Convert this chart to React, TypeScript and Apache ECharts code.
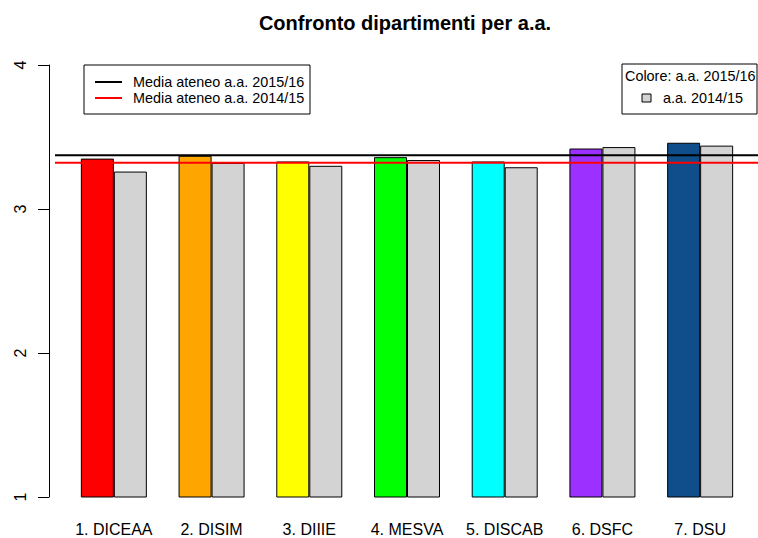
import React, { useEffect, useRef } from "react";
import * as echarts from "echarts";

const categories = ["1. DICEAA", "2. DISIM", "3. DIIIE", "4. MESVA", "5. DISCAB", "6. DSFC", "7. DSU"];
const current = [3.35, 3.37, 3.33, 3.36, 3.33, 3.42, 3.46];
const previous = [3.26, 3.32, 3.30, 3.34, 3.29, 3.43, 3.44];
const deptColors = ["#FF0000", "#FFA500", "#FFFF00", "#00FF00", "#00FFFF", "#9B30FF", "#104E8B"];
const meanCurrent = 3.373;
const meanPrevious = 3.322;
const yTicks = [1, 2, 3, 4];

const FONT = "Liberation Sans, Arial, Helvetica, sans-serif";

export default function App() {
  const ref = useRef<HTMLDivElement>(null);
  useEffect(() => {
    if (!ref.current) return;
    const chart = echarts.init(ref.current, null, { renderer: "svg" });
    const option: any = {
      animation: false,
      backgroundColor: "#ffffff",
      grid: [
        { left: 65, right: 9, top: 65, bottom: 41 },
        { left: 55, right: 0, top: 65, bottom: 41 },
      ],
      xAxis: [
        {
          type: "category",
          gridIndex: 0,
          data: categories,
          axisLine: { show: false },
          axisTick: { show: false },
          axisLabel: {
            color: "#000",
            fontFamily: FONT,
            fontSize: 16,
            margin: 24,
            interval: 0,
            hideOverlap: false,
          },
        },
        { type: "value", gridIndex: 1, min: 0, max: 1, show: false },
      ],
      yAxis: [
        {
          type: "value",
          gridIndex: 0,
          min: yTicks[0],
          max: yTicks[yTicks.length - 1],
          interval: 1,
          offset: 16,
          splitLine: { show: false },
          axisLine: { show: true, lineStyle: { color: "#000", width: 1 } },
          axisTick: { show: true, length: 11, lineStyle: { color: "#000" } },
          axisLabel: { color: "#000", fontFamily: FONT, fontSize: 16, rotate: 90, margin: 21 },
        },
        { type: "value", gridIndex: 1, min: 1, max: 4, show: false },
      ],
      series: [
        {
          type: "bar",
          xAxisIndex: 0,
          yAxisIndex: 0,
          barWidth: 33,
          barGap: "0%",
          data: current.map((v, i) => ({
            value: v,
            itemStyle: { color: deptColors[i], borderColor: "#000", borderWidth: 1 },
          })),
        },
        {
          type: "bar",
          xAxisIndex: 0,
          yAxisIndex: 0,
          barWidth: 33,
          barGap: "0%",
          itemStyle: { color: "#D3D3D3", borderColor: "#000", borderWidth: 1 },
          data: previous,
        },
        {
          type: "line",
          xAxisIndex: 1,
          yAxisIndex: 1,
          symbol: "none",
          lineStyle: { color: "#000", width: 2 },
          data: [[0, meanCurrent], [1, meanCurrent]],
          z: 5,
        },
        {
          type: "line",
          xAxisIndex: 1,
          yAxisIndex: 1,
          symbol: "none",
          lineStyle: { color: "#FF0000", width: 2 },
          data: [[0, meanPrevious], [1, meanPrevious]],
          z: 5,
        },
      ],
      graphic: [
        {
          type: "text",
          x: 405,
          y: 23,
          style: {
            text: "Confronto dipartimenti per a.a.",
            font: `bold 20px ${FONT}`,
            fill: "#000",
            textAlign: "center",
            textVerticalAlign: "middle",
          },
        },
        {
          type: "rect",
          shape: { x: 84, y: 65, width: 226, height: 49 },
          style: { fill: "#fff", stroke: "#000", lineWidth: 1 },
          z: 10,
        },
        {
          type: "line",
          shape: { x1: 95, y1: 82, x2: 122, y2: 82 },
          style: { stroke: "#000", lineWidth: 2 },
          z: 11,
        },
        {
          type: "line",
          shape: { x1: 95, y1: 98, x2: 122, y2: 98 },
          style: { stroke: "#FF0000", lineWidth: 2 },
          z: 11,
        },
        {
          type: "text",
          x: 133,
          y: 82,
          style: { text: "Media ateneo a.a. 2015/16", font: `14.4px ${FONT}`, fill: "#000", textVerticalAlign: "middle" },
          z: 11,
        },
        {
          type: "text",
          x: 133,
          y: 98,
          style: { text: "Media ateneo a.a. 2014/15", font: `14.4px ${FONT}`, fill: "#000", textVerticalAlign: "middle" },
          z: 11,
        },
        {
          type: "rect",
          shape: { x: 622, y: 64, width: 135, height: 50 },
          style: { fill: "#fff", stroke: "#000", lineWidth: 1 },
          z: 10,
        },
        {
          type: "text",
          x: 625,
          y: 76,
          style: { text: "Colore: a.a. 2015/16", font: `14.4px ${FONT}`, fill: "#000", textVerticalAlign: "middle" },
          z: 11,
        },
        {
          type: "rect",
          shape: { x: 642, y: 94, width: 9, height: 8 },
          style: { fill: "#D3D3D3", stroke: "#000", lineWidth: 1 },
          z: 11,
        },
        {
          type: "text",
          x: 663,
          y: 98,
          style: { text: "a.a. 2014/15", font: `14.4px ${FONT}`, fill: "#000", textVerticalAlign: "middle" },
          z: 11,
        },
      ],
    };
    chart.setOption(option);
    return () => chart.dispose();
  }, []);
  return <div ref={ref} style={{ width: 758, height: 538, position: "absolute", left: 0, top: 0 }} />;
}
